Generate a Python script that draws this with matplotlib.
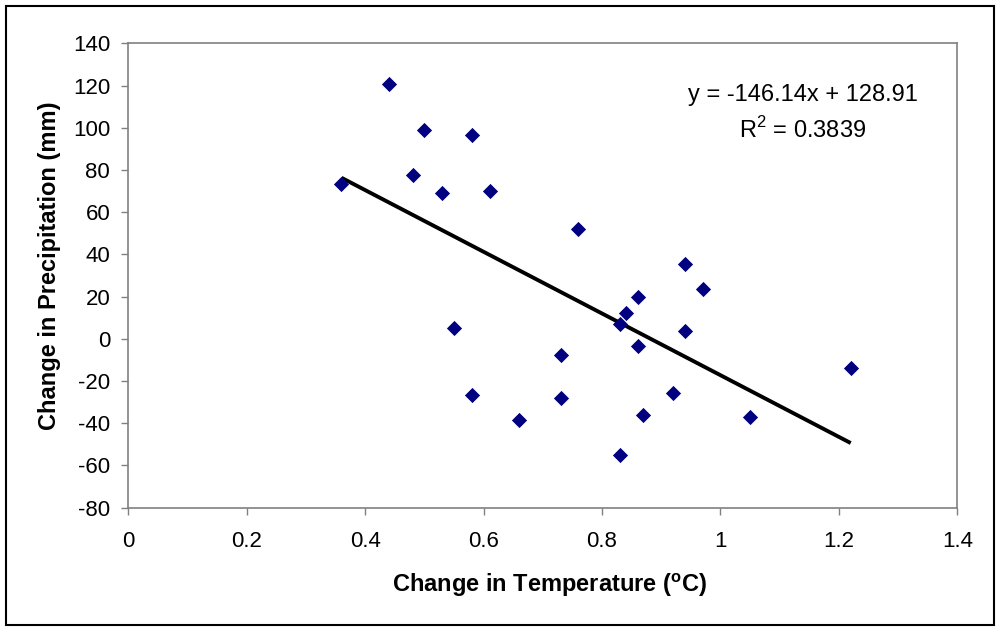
import matplotlib
matplotlib.use('Agg')
import matplotlib.pyplot as plt
from matplotlib.patches import Rectangle

plt.rcParams['font.family'] = ['Liberation Sans', 'DejaVu Sans']
plt.rcParams['mathtext.fontset'] = 'custom'
plt.rcParams['mathtext.rm'] = 'Liberation Sans'
plt.rcParams['mathtext.bf'] = 'Liberation Sans:bold'
plt.rcParams['axes.unicode_minus'] = False

# change in temperature (deg C) vs change in precipitation (mm)
temp_change = [0.36, 0.44, 0.48, 0.50, 0.53, 0.58, 0.61, 0.76, 0.55, 0.58,
               0.66, 0.73, 0.73, 0.83, 0.84, 0.86, 0.86, 0.87, 0.83, 0.92,
               0.94, 0.94, 0.97, 1.05, 1.22]
precip_change = [73.3, 120.7, 77.6, 98.9, 69.1, 96.6, 70.0, 51.9, 5.3, -26.6,
                 -38.6, -7.5, -28.2, 7.0, 12.2, 20.0, -3.3, -35.9, -55.0, -25.5,
                 35.4, 3.7, 23.5, -36.9, -13.7]

# linear trendline as reported on the chart
trend_slope = -146.14
trend_intercept = 128.91
trend_label = "y = -146.14x + 128.91"
r2_label = "R$^2$ = 0.3839"

x_ticks = [0, 0.2, 0.4, 0.6, 0.8, 1, 1.2, 1.4]
x_tick_labels = ['0', '0.2', '0.4', '0.6', '0.8', '1', '1.2', '1.4']
y_ticks = list(range(-80, 141, 20))

fig = plt.figure(figsize=(10, 6.32), dpi=100)
ax = fig.add_axes([0.1283, 0.1967, 0.829, 0.7348])

ax.scatter(temp_change, precip_change, marker='D', s=60, color='#000080',
           linewidths=0, zorder=3)

x_lo, x_hi = min(temp_change), max(temp_change)
ax.plot([x_lo, x_hi],
        [trend_slope * x_lo + trend_intercept, trend_slope * x_hi + trend_intercept],
        color='black', lw=2.8, solid_capstyle='butt', zorder=2)

ax.set_xlim(0, 1.4)
ax.set_ylim(-80, 140)
ax.set_xticks(x_ticks)
ax.set_xticklabels(x_tick_labels)
ax.set_yticks(y_ticks)

for s in ax.spines.values():
    s.set_color('#808080')
    s.set_linewidth(1.2)
ax.tick_params(axis='both', direction='out', color='#808080', length=5,
               width=1.0, labelsize=16)
ax.tick_params(axis='x', pad=12)
ax.tick_params(axis='y', pad=8)

eq_x = (803 - 128.3) / 829.0
ax.text(eq_x, 1 - (95 - 43.3) / 464.4, trend_label, transform=ax.transAxes,
        ha='center', va='center', fontsize=17)
ax.text(eq_x, 1 - (130 - 43.3) / 464.4, r2_label, transform=ax.transAxes,
        ha='center', va='center', fontsize=17)

fig.text(0.55, 1 - 585 / 632, r"Change in Temperature ($^{\mathbf{o}}$C)",
         ha='center', va='center', fontsize=17, fontweight='bold')
fig.text(0.05, 1 - 266 / 632, "Change in Precipitation (mm)", rotation=90,
         ha='center', va='center', fontsize=17, fontweight='bold')

# outer chart border
fig.patches.append(Rectangle((0.006, 0.0111), 0.988, 0.979, transform=fig.transFigure,
                             fill=False, edgecolor='black', lw=1.5))

fig.savefig('out.png', dpi=100)
